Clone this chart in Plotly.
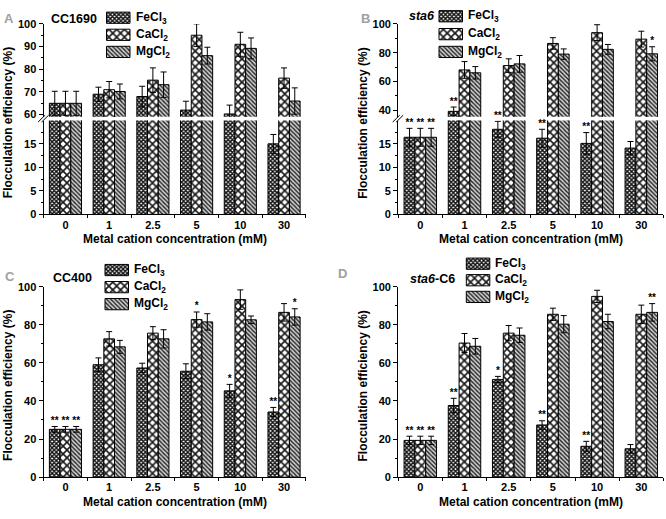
import plotly.graph_objects as go

W, H = 666, 519
FONT = "Liberation Sans, Arial, sans-serif"

# ---------------- data ----------------
categories = ["0", "1", "2.5", "5", "10", "30"]
series_names = ["FeCl<sub>3</sub>", "CaCl<sub>2</sub>", "MgCl<sub>2</sub>"]

# Panel A: CC1690
A_fe = [65, 69, 68, 62, 60.3, 15]
A_fe_err = [5.3, 3.1, 4.5, 3.9, 3.9, 2.0]
A_ca = [65, 71, 75.2, 95, 91, 76.1]
A_ca_err = [5.3, 3.6, 5.4, 5.0, 5.3, 4.5]
A_mg = [65, 70.2, 73.2, 86, 89.2, 66]
A_mg_err = [5.3, 3.3, 5.6, 3.7, 4.6, 5.8]
A_sig = [["", "", "", "", "", ""], ["", "", "", "", "", ""], ["", "", "", "", "", ""]]

# Panel B: sta6
B_fe = [16.4, 39.2, 18.1, 16.2, 15.1, 14.1]
B_fe_err = [1.9, 3.0, 1.7, 1.9, 2.3, 1.4]
B_ca = [16.4, 68, 71, 86.4, 93.9, 89.4]
B_ca_err = [1.9, 5.8, 4.7, 4.0, 5.5, 5.5]
B_mg = [16.4, 66, 72.2, 79, 82.3, 79.2]
B_mg_err = [1.9, 4.3, 5.8, 3.6, 3.4, 4.9]
B_sig = [["**", "**", "**", "**", "**", ""], ["**", "", "", "", "", ""], ["**", "", "", "", "", "*"]]

# Panel C: CC400
C_fe = [25.1, 59, 57.3, 55.6, 45.3, 34.2]
C_fe_err = [1.5, 3.6, 2.5, 3.9, 3.4, 2.4]
C_ca = [25.1, 72.6, 75.6, 82.7, 93.2, 86.5]
C_ca_err = [1.5, 3.8, 3.4, 4.0, 5.1, 4.6]
C_mg = [25.1, 68.4, 72.6, 81.5, 82.6, 84.1]
C_mg_err = [1.5, 3.4, 4.8, 4.3, 2.0, 4.3]
C_sig = [["**", "", "", "", "*", "**"], ["**", "", "", "*", "", ""], ["**", "", "", "", "", "*"]]

# Panel D: sta6-C6
D_fe = [19.3, 37.6, 51.3, 27.4, 16.2, 14.9]
D_fe_err = [2.2, 3.8, 1.6, 2.2, 2.6, 2.2]
D_ca = [19.3, 70.4, 75.6, 85.5, 94.9, 85.5]
D_ca_err = [2.2, 5.0, 4.0, 3.2, 3.2, 4.8]
D_mg = [19.3, 68.7, 74.5, 80.3, 81.7, 86.5]
D_mg_err = [2.2, 4.1, 3.8, 4.5, 3.8, 4.6]
D_sig = [["**", "**", "*", "**", "**", ""], ["**", "", "", "", "", ""], ["**", "", "", "", "", "**"]]

# ---------------- styles ----------------
PATTERNS = [
    dict(shape="x", size=3, solidity=0.7, fgcolor="#111111", bgcolor="white", fillmode="replace"),
    dict(shape="x", size=5.5, solidity=0.5, fgcolor="#1a1a1a", bgcolor="white", fillmode="replace"),
    dict(shape="\\", size=3, solidity=0.45, fgcolor="#222222", bgcolor="#d0d0d0", fillmode="replace"),
]
BAR_W = 0.245


def px(v):
    return v / W


def py(v):
    return 1 - v / H


fig = go.Figure()

panels = [
    dict(key="A", fe=(A_fe, A_fe_err), ca=(A_ca, A_ca_err), mg=(A_mg, A_mg_err), sig=A_sig,
         xa="x", ya=["y", "y2"], xdom=(43.6, 305.9),
         ydoms=[(213.3, 117.3), (113.3, 18.3)], ranges=[(0, 19.95), (59.1, 100)], dticks=[5, 10],
         letter="A", letter_xy=(9, 13), name="CC1690", name_xy=(74, 13),
         leg_x=106.5, leg_y=[12, 29.5, 47]),
    dict(key="B", fe=(B_fe, B_fe_err), ca=(B_ca, B_ca_err), mg=(B_mg, B_mg_err), sig=B_sig,
         xa="x2", ya=["y3", "y4"], xdom=(398.2, 663.4),
         ydoms=[(213.3, 117.3), (113.3, 18.3)], ranges=[(0, 19.95), (35.5, 100)], dticks=[5, 20],
         letter="B", letter_xy=(365.5, 13), name="<i>sta6</i>", name_xy=(421.5, 10),
         leg_x=439, leg_y=[10.5, 28.8, 47]),
    dict(key="C", fe=(C_fe, C_fe_err), ca=(C_ca, C_ca_err), mg=(C_mg, C_mg_err), sig=C_sig,
         xa="x3", ya=["y5"], xdom=(43.6, 305.9),
         ydoms=[(482.3, 287.3)], ranges=[(0, 100)], dticks=[20],
         letter="C", letter_xy=(10, 276.5), name="CC400", name_xy=(72.5, 278.5),
         leg_x=105, leg_y=[270.3, 287.8, 305.2]),
    dict(key="D", fe=(D_fe, D_fe_err), ca=(D_ca, D_ca_err), mg=(D_mg, D_mg_err), sig=D_sig,
         xa="x4", ya=["y6"], xdom=(398.2, 663.4),
         ydoms=[(482.3, 287.3)], ranges=[(0, 100)], dticks=[20],
         letter="D", letter_xy=(342, 274), name="<i>sta6</i>-C6", name_xy=(432.7, 279),
         leg_x=466.3, leg_y=[263.8, 280.7, 297.8]),
]

annotations = []
shapes = []
layout_axes = {}

for p in panels:
    xa = p["xa"]
    xkey = "xaxis" + xa[1:]
    layout_axes[xkey] = dict(
        domain=[px(p["xdom"][0]), px(p["xdom"][1])], range=[-0.5, 5.5], anchor=p["ya"][0],
        tickmode="array", tickvals=list(range(len(categories))), ticktext=categories,
        ticks="", showline=True, linecolor="black", linewidth=1.2, showgrid=False, zeroline=False,
        tickfont=dict(family=FONT, size=11, color="black", weight="bold"),
        minor=dict(ticks="outside", ticklen=3, tickcolor="black", tickwidth=1, tick0=0.5, dtick=1, showgrid=False),
        fixedrange=True,
    )
    for ya, ydom, rng, dt in zip(p["ya"], p["ydoms"], p["ranges"], p["dticks"]):
        ykey = "yaxis" + ya[1:]
        layout_axes[ykey] = dict(
            domain=[py(ydom[0]), py(ydom[1])], range=list(rng), anchor=xa,
            tickmode="linear", tick0=0, dtick=dt,
            ticks="outside", ticklen=4, tickwidth=1, tickcolor="black",
            minor=dict(ticks="outside", ticklen=2, tickcolor="black", dtick=dt / 2, tick0=0, showgrid=False),
            showline=True, linecolor="black", linewidth=1.2, showgrid=False, zeroline=False,
            tickfont=dict(family=FONT, size=11, color="black", weight="bold"),
            fixedrange=True,
        )

    series = [p["fe"], p["ca"], p["mg"]]
    lower_top = p["ranges"][0][1]
    for j, (vals, errs) in enumerate(series):
        xs = [i + (j - 1) * BAR_W for i in range(len(categories))]
        for ya in p["ya"]:
            fig.add_trace(go.Bar(
                x=xs, y=vals, width=BAR_W, xaxis=xa, yaxis=ya, showlegend=False,
                marker=dict(color="white", line=dict(color="black", width=1), pattern=PATTERNS[j]),
                error_y=dict(type="data", array=errs, visible=True, color="black", thickness=1, width=3),
            ))
        sig = p["sig"][j]
        lo_x, lo_y, lo_t, up_x, up_y, up_t = [], [], [], [], [], []
        for i, s in enumerate(sig):
            if not s:
                continue
            top = vals[i] + errs[i]
            if len(p["ya"]) == 1 or vals[i] < lower_top:
                lo_x.append(xs[i]); lo_y.append(top); lo_t.append(s)
            else:
                up_x.append(xs[i]); up_y.append(top); up_t.append(s)
        for tx, ty, tt, ya in [(lo_x, lo_y, lo_t, p["ya"][0]), (up_x, up_y, up_t, p["ya"][-1])]:
            if tx:
                fig.add_trace(go.Scatter(
                    x=tx, y=ty, text=tt, mode="text", textposition="top center",
                    textfont=dict(family=FONT, size=10, color="black", weight="bold"),
                    xaxis=xa, yaxis=ya, cliponaxis=False, showlegend=False, hoverinfo="skip",
                ))

    x0, x1 = p["xdom"]
    xaxis_px = p["ydoms"][0][0]
    ytop_px = p["ydoms"][-1][1]
    annotations.append(dict(
        text="Metal cation concentration (mM)", xref="paper", yref="paper",
        x=px((x0 + x1) / 2), y=py(xaxis_px + 25.5), xanchor="center", yanchor="middle",
        showarrow=False, font=dict(family=FONT, size=12, color="black", weight="bold")))
    annotations.append(dict(
        text="Flocculation efficiency (%)", xref="paper", yref="paper", textangle=-90,
        x=px(x0 - 35.5), y=py((xaxis_px + ytop_px) / 2 + 4), xanchor="center", yanchor="middle",
        showarrow=False, font=dict(family=FONT, size=12, color="black", weight="bold")))
    annotations.append(dict(
        text=p["letter"], xref="paper", yref="paper", x=px(p["letter_xy"][0]), y=py(p["letter_xy"][1]),
        xanchor="center", yanchor="middle", showarrow=False,
        font=dict(family=FONT, size=13, color="#a0a0a0", weight="bold")))
    annotations.append(dict(
        text=p["name"], xref="paper", yref="paper", x=px(p["name_xy"][0]), y=py(p["name_xy"][1]),
        xanchor="center", yanchor="middle", showarrow=False,
        font=dict(family=FONT, size=12.5, color="black", weight="bold")))
    for j, nm in enumerate(series_names):
        annotations.append(dict(
            text=nm, xref="paper", yref="paper", x=px(p["leg_x"] + 27), y=py(p["leg_y"][j]),
            xanchor="left", yanchor="middle", showarrow=False,
            font=dict(family=FONT, size=12, color="black", weight="bold")))
    if len(p["ya"]) == 2:
        gb, gt = p["ydoms"][0][1], p["ydoms"][1][0]
        for off in (-2.0, 1.5):
            shapes.append(dict(
                type="line", xref="paper", yref="paper",
                x0=px(x0 + off - 3.5), y0=py(gb + 1.5), x1=px(x0 + off + 3.5), y1=py(gt - 1.5),
                line=dict(color="black", width=1)))

# legend swatches: horizontal bars on a pixel-overlay axis pair
layout_axes["xaxis5"] = dict(domain=[0, 1], range=[0, W], visible=False, anchor="y7", fixedrange=True)
layout_axes["yaxis7"] = dict(domain=[0, 1], range=[H, 0], visible=False, anchor="x5", fixedrange=True)
SW_W, SW_H = 23.5, 11.5
for j in range(3):
    fig.add_trace(go.Bar(
        orientation="h", y=[p["leg_y"][j] for p in panels], x=[SW_W] * len(panels),
        base=[p["leg_x"] for p in panels], width=SW_H, xaxis="x5", yaxis="y7", showlegend=False,
        marker=dict(color="white", line=dict(color="black", width=1), pattern=PATTERNS[j]),
        hoverinfo="skip",
    ))

fig.update_layout(
    width=W, height=H, margin=dict(l=0, r=0, t=0, b=0),
    paper_bgcolor="white", plot_bgcolor="rgba(0,0,0,0)",
    barmode="overlay", showlegend=False,
    annotations=annotations, shapes=shapes,
    **layout_axes,
)

fig.write_html(
    "out.html",
    config={"displayModeBar": False},
    post_script="document.body.style.margin='0px'; document.body.style.overflow='hidden';",
)
